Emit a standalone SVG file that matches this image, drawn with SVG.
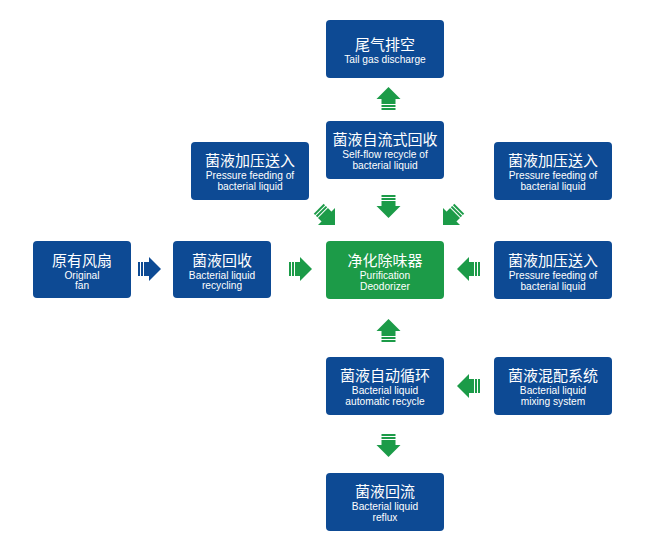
<svg xmlns="http://www.w3.org/2000/svg" xmlns:xlink="http://www.w3.org/1999/xlink" width="660" height="546" viewBox="0 0 660 546">
<style>
.b{fill:#0d4a94}
.g{fill:#1c9b48}
.zh{font-family:"Noto Sans CJK SC",sans-serif;font-size:15px;fill:#fff;text-anchor:middle}
.en{font-family:"Liberation Sans",Arial,sans-serif;font-size:10.2px;fill:#fff;text-anchor:middle}
</style>
<defs>
<g id="arr">
<rect x="-11" y="-7" width="2" height="14"/>
<rect x="-8" y="-7" width="2" height="14"/>
<rect x="-5" y="-7" width="5.5" height="14"/>
<polygon points="0,-12 12,0 0,12"/>
</g>
</defs>
<rect width="660" height="546" fill="#fff"/>
<g id="connectors">
<use xlink:href="#arr" fill="#1c9b48" transform="translate(388.5,99) rotate(-90)"/>
<use xlink:href="#arr" fill="#1c9b48" transform="translate(388.5,206) rotate(90)"/>
<use xlink:href="#arr" fill="#1c9b48" transform="translate(326.5,216.5) rotate(45)"/>
<use xlink:href="#arr" fill="#1c9b48" transform="translate(451.5,216.5) rotate(135)"/>
<use xlink:href="#arr" fill="#0d4a94" transform="translate(149,269)"/>
<use xlink:href="#arr" fill="#1c9b48" transform="translate(300,269)"/>
<use xlink:href="#arr" fill="#1c9b48" transform="translate(469,269) rotate(180)"/>
<use xlink:href="#arr" fill="#1c9b48" transform="translate(388.5,331) rotate(-90)"/>
<use xlink:href="#arr" fill="#1c9b48" transform="translate(469,386) rotate(180)"/>
<use xlink:href="#arr" fill="#1c9b48" transform="translate(388.5,445) rotate(90)"/>
</g>
<g id="n-tail">
<rect class="b" x="326" y="20" width="118" height="58" rx="4"/>
<text class="zh" x="385" y="50">尾气排空</text>
<text class="en" x="385" y="62.5">Tail gas discharge</text>
</g>
<g id="n-selfflow">
<rect class="b" x="326" y="121" width="118" height="58" rx="4"/>
<text class="zh" x="385" y="145">菌液自流式回收</text>
<text class="en" x="385" y="158">Self-flow recycle of</text>
<text class="en" x="385" y="169">bacterial liquid</text>
</g>
<g id="n-press-l">
<rect class="b" x="191" y="142" width="118" height="58" rx="4"/>
<text class="zh" x="250" y="166">菌液加压送入</text>
<text class="en" x="250" y="179">Pressure feeding of</text>
<text class="en" x="250" y="190">bacterial liquid</text>
</g>
<g id="n-press-r">
<rect class="b" x="494" y="142" width="118" height="58" rx="4"/>
<text class="zh" x="553" y="166">菌液加压送入</text>
<text class="en" x="553" y="179">Pressure feeding of</text>
<text class="en" x="553" y="190">bacterial liquid</text>
</g>
<g id="n-fan">
<rect class="b" x="33" y="241" width="98" height="57" rx="4"/>
<text class="zh" x="82" y="266">原有风扇</text>
<text class="en" x="82" y="278.5">Original</text>
<text class="en" x="82" y="289">fan</text>
</g>
<g id="n-recycle">
<rect class="b" x="173" y="241" width="98" height="57" rx="4"/>
<text class="zh" x="222" y="266">菌液回收</text>
<text class="en" x="222" y="278.5">Bacterial liquid</text>
<text class="en" x="222" y="289">recycling</text>
</g>
<g id="n-purifier">
<rect class="g" x="326" y="241" width="118" height="58" rx="4"/>
<text class="zh" x="385" y="266">净化除味器</text>
<text class="en" x="385" y="278.5">Purification</text>
<text class="en" x="385" y="289.5">Deodorizer</text>
</g>
<g id="n-press-r2">
<rect class="b" x="494" y="241" width="118" height="58" rx="4"/>
<text class="zh" x="553" y="266">菌液加压送入</text>
<text class="en" x="553" y="279">Pressure feeding of</text>
<text class="en" x="553" y="290">bacterial liquid</text>
</g>
<g id="n-auto">
<rect class="b" x="326" y="357" width="118" height="58" rx="4"/>
<text class="zh" x="385" y="381">菌液自动循环</text>
<text class="en" x="385" y="394">Bacterial liquid</text>
<text class="en" x="385" y="405">automatic recycle</text>
</g>
<g id="n-mixing">
<rect class="b" x="494" y="357" width="118" height="58" rx="4"/>
<text class="zh" x="553" y="381">菌液混配系统</text>
<text class="en" x="553" y="394">Bacterial liquid</text>
<text class="en" x="553" y="405">mixing system</text>
</g>
<g id="n-reflux">
<rect class="b" x="326" y="473" width="118" height="58" rx="4"/>
<text class="zh" x="385" y="497">菌液回流</text>
<text class="en" x="385" y="510">Bacterial liquid</text>
<text class="en" x="385" y="521">reflux</text>
</g>
</svg>
